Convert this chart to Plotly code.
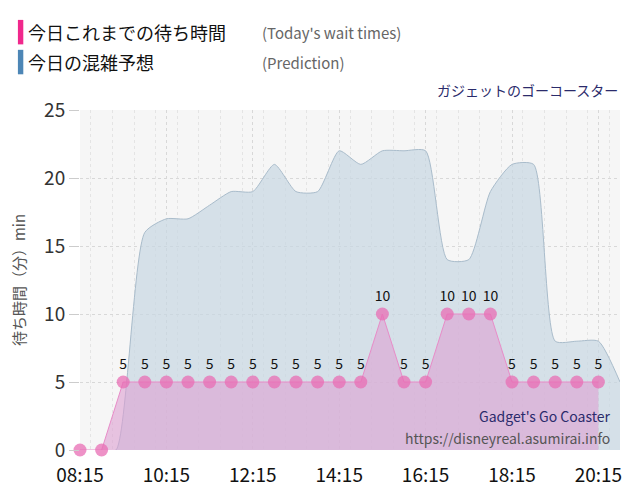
import plotly.graph_objects as go

times = ["08:15", "08:45", "09:15", "09:45", "10:15", "10:45", "11:15", "11:45",
         "12:15", "12:45", "13:15", "13:45", "14:15", "14:45", "15:15", "15:45",
         "16:15", "16:45", "17:15", "17:45", "18:15", "18:45", "19:15", "19:45",
         "20:15"]
wait = [0, 0, 5, 5, 5, 5, 5, 5, 5, 5, 5, 5, 5, 5, 10, 5, 5, 10, 10, 10, 5, 5, 5, 5, 5]
pred_times = ["08:45", "09:05", "09:45", "10:15", "10:45", "11:15", "11:45", "12:15", "12:45",
              "13:15", "13:45", "14:15", "14:45", "15:15", "15:45", "16:15", "16:45",
              "17:15", "17:45", "18:15", "18:45", "19:15", "19:45", "20:15", "20:45"]
pred = [0, 0, 16, 17, 17, 18, 19, 19, 21, 19, 19, 22, 21, 22, 22, 22, 14, 14, 19, 21,
        21, 8, 8, 8, 5]

def ts(t):
    return "2024-01-01 " + t + ":00"

fig = go.Figure()
fig.add_trace(go.Scatter(
    x=[ts(t) for t in pred_times], y=pred, mode="lines",
    line=dict(color="#a9bccb", width=1, shape="spline", smoothing=0.6),
    fill="tozeroy", fillcolor="rgba(200,215,226,0.7)", hoverinfo="skip"))
fig.add_trace(go.Scatter(
    x=[ts(t) for t in times], y=wait, mode="lines+markers+text", cliponaxis=False,
    line=dict(color="#e88cc8", width=1),
    fill="tozeroy", fillcolor="rgba(222,160,210,0.6)",
    marker=dict(color="rgba(232,110,180,0.75)", size=13),
    text=[str(v) if v else "" for v in wait], textposition="top center",
    textfont=dict(size=14, color="#111")))

legend = [("今日これまでの待ち時間", "(Today's wait times)", "#f0288c", 1.229),
          ("今日の混雑予想", "(Prediction)", "#4d86b6", 1.141)]
for txt, sub, col, y in legend:
    fig.add_shape(type="rect", xref="paper", yref="paper", x0=-0.115, x1=-0.105,
                  y0=y - 0.036, y1=y + 0.036, fillcolor=col, line_width=0)
    fig.add_annotation(xref="paper", yref="paper", x=-0.1, y=y, text=txt, yanchor="middle",
                       showarrow=False, xanchor="left", font=dict(size=18, color="#111"))
    fig.add_annotation(xref="paper", yref="paper", x=0.333, y=y, text=sub, yanchor="middle",
                       showarrow=False, xanchor="left", font=dict(size=15, color="#666"))
fig.add_annotation(xref="paper", yref="paper", x=1.0, y=1.059, text="ガジェットのゴーコースター",
                   showarrow=False, xanchor="right", yanchor="middle", font=dict(size=14, color="#2b2b6b"))
fig.add_annotation(xref="paper", yref="paper", x=0.985, y=0.1, text="Gadget's Go Coaster",
                   showarrow=False, xanchor="right", yanchor="middle", font=dict(size=14, color="#2b2b6b"))
fig.add_annotation(xref="paper", yref="paper", x=0.985, y=0.035, text="https://disneyreal.asumirai.info",
                   showarrow=False, xanchor="right", yanchor="middle", font=dict(size=14, color="#555"))

fig.update_layout(
    width=640, height=500, showlegend=False,
    margin=dict(l=72, r=28, t=102, b=58),
    paper_bgcolor="white", plot_bgcolor="#f6f6f6",
    font=dict(family="Noto Sans CJK JP, DejaVu Sans"),
    xaxis=dict(type="date", range=[ts("08:15"), ts("20:45")], tick0=ts("08:15"), dtick=7200000,
               tickformat="%H:%M", tickfont=dict(size=19, color="#111"), automargin=False,
               ticks="outside", ticklen=8, tickcolor="rgba(0,0,0,0)",
               showgrid=True, gridcolor="#d8d8d8", griddash="dot",
               minor=dict(dtick=1800000, showgrid=True, gridcolor="#e4e4e4", griddash="dot"),
               zeroline=False, showline=False),
    yaxis=dict(range=[0, 25], dtick=5, tickfont=dict(size=19, color="#333"), automargin=False,
               title=dict(text="待ち時間（分）min", font=dict(size=15, color="#555"), standoff=16),
               gridcolor="#d8d8d8", griddash="dot", zeroline=False, ticks="outside",
               ticklen=10, tickcolor="#ccc"),
)
fig.write_html("out.html")
